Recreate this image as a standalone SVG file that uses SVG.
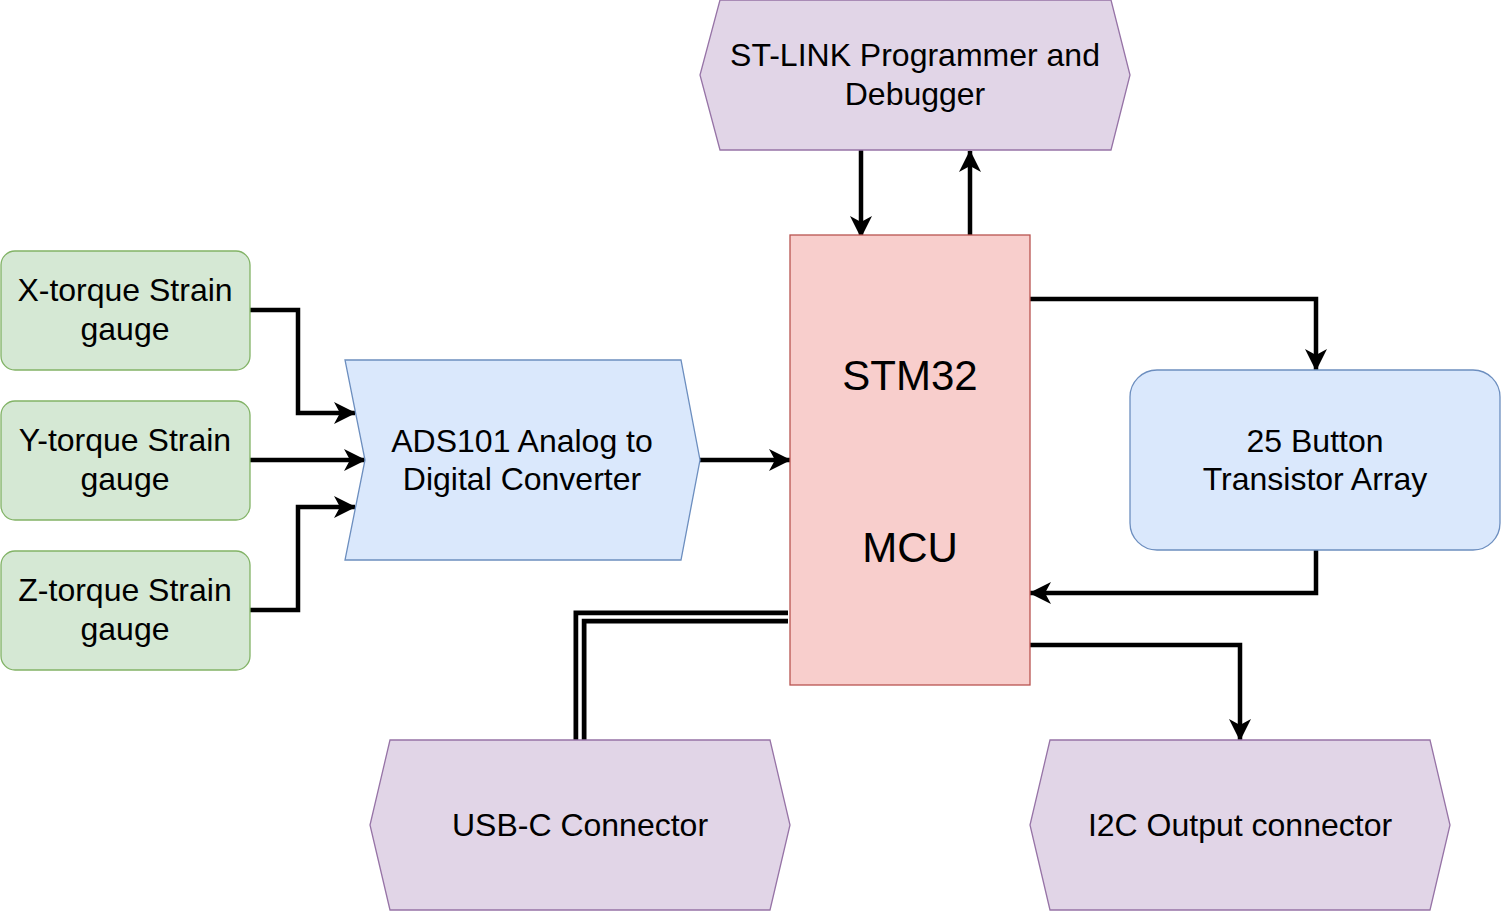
<svg xmlns="http://www.w3.org/2000/svg" width="1502" height="911" viewBox="0 0 1502 911">
<defs>
<style>
text{font-family:"Liberation Sans",Arial,Helvetica,sans-serif;font-size:32px;fill:#000;text-anchor:middle}
.big{font-size:42px}
.green{fill:#d5e8d4;stroke:#82b366;stroke-width:1.3}
.blue{fill:#dae8fc;stroke:#6c8ebf;stroke-width:1.3}
.red{fill:#f8cecc;stroke:#b85450;stroke-width:1.3}
.purple{fill:#e1d5e7;stroke:#9673a6;stroke-width:1.3}
.wire{fill:none;stroke:#000;stroke-width:4.5;stroke-linejoin:miter}
.arr{marker-end:url(#ah)}
</style>
<marker id="ah" viewBox="0 0 22 22" refX="21" refY="11" markerWidth="22" markerHeight="22" markerUnits="userSpaceOnUse" orient="auto">
<path d="M0,0 L22,11 L0,22 L6,11 Z" fill="#000"/>
</marker>
</defs>

<g id="connectors">
<path class="wire arr" d="M250,310 H298 V413 H355"/>
<path class="wire arr" d="M250,460 H365"/>
<path class="wire arr" d="M250,610 H298 V507 H355"/>
<path class="wire arr" d="M700,460 H790"/>
<path class="wire arr" d="M861,150 V237"/>
<path class="wire arr" d="M970,235 V151"/>
<path class="wire arr" d="M1030,299 H1316 V370"/>
<path class="wire arr" d="M1316,550 V593 H1030"/>
<path class="wire arr" d="M1030,645 H1240 V740"/>
<path fill="none" stroke="#000" stroke-width="13" d="M788,617 H580 V740"/>
<path fill="none" stroke="#fff" stroke-width="3.5" d="M788,617 H580 V741"/>
</g>

<g id="x-gauge">
<rect class="green" x="1" y="251" width="249" height="119" rx="14"/>
<text x="125" y="301">X-torque Strain</text>
<text x="125" y="340">gauge</text>
</g>
<g id="y-gauge">
<rect class="green" x="1" y="401" width="249" height="119" rx="14"/>
<text x="125" y="451">Y-torque Strain</text>
<text x="125" y="490">gauge</text>
</g>
<g id="z-gauge">
<rect class="green" x="1" y="551" width="249" height="119" rx="14"/>
<text x="125" y="601">Z-torque Strain</text>
<text x="125" y="640">gauge</text>
</g>

<g id="adc">
<polygon class="blue" points="345,360 681,360 700,460 681,560 345,560 365,460"/>
<text x="522" y="452">ADS101 Analog to</text>
<text x="522" y="490">Digital Converter</text>
</g>

<g id="stm32">
<rect class="red" x="790" y="235" width="240" height="450"/>
<text class="big" x="910" y="390">STM32</text>
<text class="big" x="910" y="562">MCU</text>
</g>

<g id="stlink">
<polygon class="purple" points="720,0 1111,0 1130,75 1111,150 720,150 700,75"/>
<text x="915" y="66">ST-LINK Programmer and</text>
<text x="915" y="105">Debugger</text>
</g>

<g id="buttons">
<rect class="blue" x="1130" y="370" width="370" height="180" rx="27"/>
<text x="1315" y="452">25 Button</text>
<text x="1315" y="490">Transistor Array</text>
</g>

<g id="usbc">
<polygon class="purple" points="390,740 770,740 790,825 770,910 390,910 370,825"/>
<text x="580" y="836">USB-C Connector</text>
</g>

<g id="i2c">
<polygon class="purple" points="1050,740 1430,740 1450,825 1430,910 1050,910 1030,825"/>
<text x="1240" y="836">I2C Output connector</text>
</g>
</svg>
